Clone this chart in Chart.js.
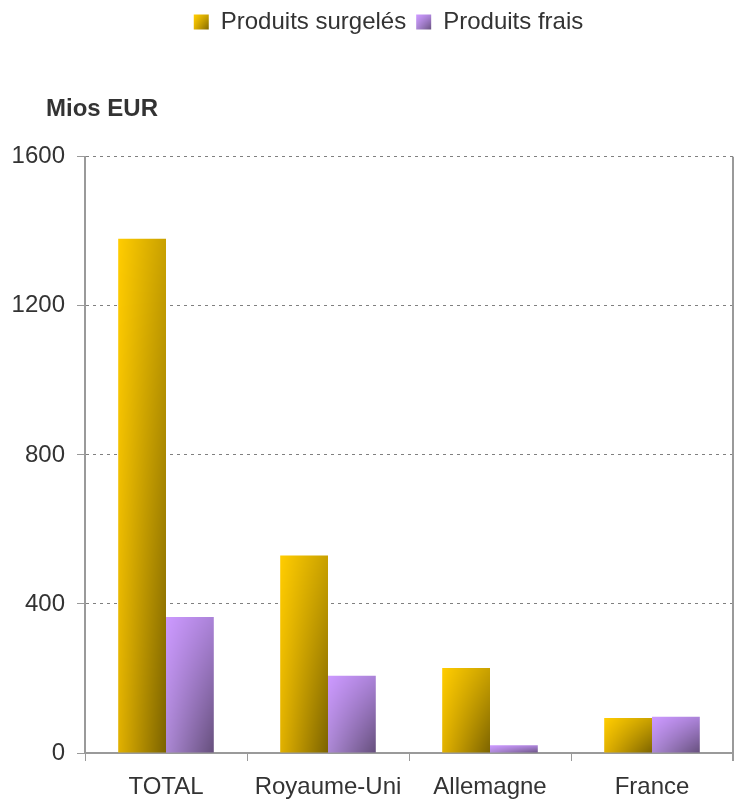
<!DOCTYPE html>
<html>
<head>
<meta charset="utf-8">
<script src="https://cdn.jsdelivr.net/npm/chart.js@4/dist/chart.umd.min.js"></script>
<style>
  html, body { margin: 0; padding: 0; background: #fff; }
  #wrap { width: 740px; height: 802px; }
</style>
</head>
<body>
<div id="wrap"><canvas id="chart"></canvas></div>
<script>
const categories = ['TOTAL', 'Royaume-Uni', 'Allemagne', 'France'];
const seriesNames = ['Produits surgelés', 'Produits frais'];
const surgeles = [1380, 530, 228, 94];
const frais = [365, 207, 21, 97];
const yTicks = [0, 400, 800, 1200, 1600];
const unitLabel = 'Mios EUR';

// corner colours of the shaded bars: top-left, top-right, bottom-left, bottom-right
const gold = [[255, 204, 0], [200, 160, 0], [224, 176, 0], [122, 98, 0]];
const lilac = [[204, 153, 255], [170, 130, 215], [170, 135, 210], [100, 78, 122]];
const shades = [gold, lilac];

const CAT_PCT = 0.59;
const TEXT = '#333';
const AXIS = '#9a9a9a';
const FONT = 'Liberation Sans, Arial, sans-serif';
const HEAD_LEFT = 44;   // left edge of legend / unit heading
const BOX = 15;

function mix(a, b, t) {
  return [0, 1, 2].map(i => a[i] + (b[i] - a[i]) * t);
}

// bilinear shaded pattern placed on a rectangle of the canvas
function shadedFill(ctx, c, left, top, w, h) {
  const x0 = Math.floor(left) - 1, y0 = Math.floor(top) - 1;
  const W = Math.max(2, Math.ceil(w) + 3), H = Math.max(2, Math.ceil(h) + 3);
  const off = document.createElement('canvas');
  off.width = W; off.height = H;
  const o = off.getContext('2d');
  const img = o.createImageData(W, H);
  for (let y = 0; y < H; y++) {
    const v = Math.min(1, Math.max(0, (y0 + y - top) / Math.max(1, h)));
    for (let x = 0; x < W; x++) {
      const u = Math.min(1, Math.max(0, (x0 + x - left) / Math.max(1, w)));
      const col = mix(mix(c[0], c[1], u), mix(c[2], c[3], u), v);
      const k = (y * W + x) * 4;
      img.data[k] = col[0]; img.data[k + 1] = col[1]; img.data[k + 2] = col[2]; img.data[k + 3] = 255;
    }
  }
  o.putImageData(img, 0, 0);
  const pat = ctx.createPattern(off, 'no-repeat');
  pat.setTransform(new DOMMatrix([1, 0, 0, 1, x0, y0]));
  return pat;
}

function barFill(context) {
  const chart = context.chart;
  const { x, y } = chart.scales;
  if (context.type !== 'data' || !x || !y || !chart.chartArea) return 'rgb(' + shades[context.datasetIndex][0] + ')';
  const catW = x.width / categories.length;
  const barW = catW * CAT_PCT / 2;
  const left = x.getPixelForValue(context.dataIndex) - catW * CAT_PCT / 2 + context.datasetIndex * barW;
  const top = y.getPixelForValue(context.raw);
  const base = y.getPixelForValue(0);
  return shadedFill(chart.ctx, shades[context.datasetIndex], left, top, barW, base - top);
}

// legend and unit heading start further right than the y tick labels
const headBlocks = {
  id: 'headBlocks',
  afterLayout(chart) {
    if (chart.legend) chart.legend.left = HEAD_LEFT;
    if (chart.titleBlock) chart.titleBlock.left = 46;
  },
  beforeDraw(chart) {
    const lg = chart.legend;
    if (!lg || !lg.legendItems) return;
    const fs = lg.options.labels.font.size;
    lg.legendItems.forEach((item, i) => {
      const hb = lg.legendHitBoxes[i];
      item.fillStyle = shadedFill(chart.ctx, shades[item.datasetIndex], hb.left, hb.top + (fs - BOX) / 2, BOX, BOX);
    });
  }
};

// right-hand frame line of the plot area
const frameRight = {
  id: 'frameRight',
  afterDraw(chart) {
    const { ctx, chartArea } = chart;
    ctx.save();
    ctx.strokeStyle = AXIS;
    ctx.lineWidth = 2;
    ctx.beginPath();
    ctx.moveTo(chartArea.right, chartArea.top);
    ctx.lineTo(chartArea.right, chartArea.bottom + 8);
    ctx.stroke();
    ctx.restore();
  }
};

new Chart(document.getElementById('chart'), {
  type: 'bar',
  data: {
    labels: categories,
    datasets: [
      { label: seriesNames[0], data: surgeles, backgroundColor: barFill },
      { label: seriesNames[1], data: frais, backgroundColor: barFill }
    ]
  },
  options: {
    responsive: true,
    maintainAspectRatio: false,
    animation: false,
    datasets: { bar: { categoryPercentage: CAT_PCT, barPercentage: 1, borderWidth: 0 } },
    layout: { padding: { left: 0, right: 7, top: 0, bottom: 0 } },
    plugins: {
      legend: {
        position: 'top',
        weight: 1000,
        labels: {
          boxWidth: BOX,
          boxHeight: BOX,
          padding: 10,
          color: TEXT,
          font: { family: FONT, size: 24 }
        }
      },
      title: {
        display: true,
        text: unitLabel,
        align: 'start',
        weight: 500,
        color: TEXT,
        font: { family: FONT, size: 24, weight: 'bold' },
        padding: { top: 51, bottom: 33 }
      },
      tooltip: { enabled: false }
    },
    scales: {
      x: {
        grid: { offset: true, drawOnChartArea: false, drawTicks: true, tickLength: 8, color: AXIS, tickColor: AXIS, lineWidth: 1 },
        border: { color: AXIS, width: 2 },
        ticks: { color: TEXT, padding: 12, font: { family: FONT, size: 24 } },
        afterFit(scale) { scale.height = 49; }
      },
      y: {
        min: 0,
        max: 1600,
        afterBuildTicks(scale) { scale.ticks = yTicks.map(v => ({ value: v })); },
        grid: { color: '#808080', lineWidth: 1, tickLength: 8, tickColor: AXIS, tickBorderDash: [] },
        border: { color: AXIS, width: 2, dash: [3, 4] },
        ticks: { color: TEXT, padding: 12, font: { family: FONT, size: 24 }, callback: v => String(v) },
        afterFit(scale) { scale.width = 85; }
      }
    }
  },
  plugins: [headBlocks, frameRight]
});
</script>
</body>
</html>
